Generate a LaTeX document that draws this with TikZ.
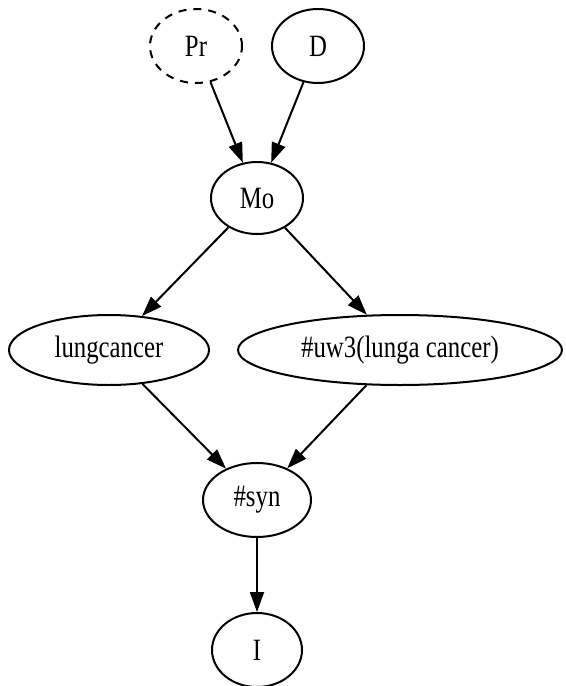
\documentclass[tikz,border=0pt]{standalone}
\usepackage{fontspec}
\setmainfont{Liberation Serif}
\newfontfamily\labelfont[FakeStretch=0.8]{Liberation Serif}
\usetikzlibrary{shapes.geometric,arrows.meta}
\begin{document}
\begin{tikzpicture}[x=0.5pt,y=-0.5pt,
  gnode/.style={ellipse, draw, line width=1pt, inner sep=0pt,
    font=\labelfont\fontsize{15.5}{17}\selectfont},
  dashednode/.style={gnode, dash pattern=on 4pt off 3.5pt},
  edge/.style={draw, line width=1pt, -{Triangle[length=10pt,width=7pt]}}]
\useasboundingbox (0,0) rectangle (566,686);
% top rank
\node[dashednode, minimum width=46pt, minimum height=37pt] (pr) at (196,46) {Pr};
\node[gnode, minimum width=46pt, minimum height=37pt] (d) at (318,46) {D};
% middle
\node[gnode, minimum width=46pt, minimum height=36pt] (mo) at (257,198) {Mo};
\node[gnode, minimum width=100pt, minimum height=35pt] (lc) at (109,350) {lungcancer};
\node[gnode, minimum width=162pt, minimum height=35pt] (uw) at (400,350) {\#uw3(lunga cancer)};
\node[gnode, minimum width=54pt, minimum height=37pt] (syn) at (257,500) {\#syn};
\node[gnode, minimum width=45pt, minimum height=37pt] (i) at (257,650) {I};
% edges
\draw[edge] (pr) -- (mo);
\draw[edge] (d) -- (mo);
\draw[edge] (mo) -- (lc);
\draw[edge] (mo) -- (uw);
\draw[edge] (lc) -- (syn);
\draw[edge] (uw) -- (syn);
\draw[edge] (syn) -- (i);
\end{tikzpicture}
\end{document}
